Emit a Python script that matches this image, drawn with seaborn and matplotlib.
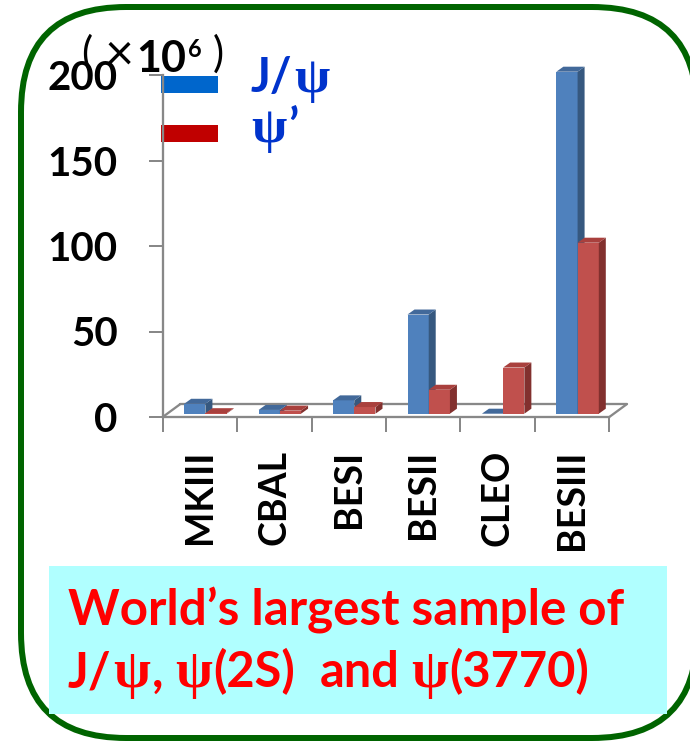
import matplotlib
matplotlib.use("Agg")
import matplotlib.pyplot as plt
import numpy as np
import pandas as pd
import seaborn as sns
from matplotlib.patches import FancyBboxPatch, Rectangle, Polygon
from matplotlib.lines import Line2D

# Data (events, in units of 10^6)
experiments = ["MKIII", "CBAL", "BESI", "BESII", "CLEO", "BESIII"]
jpsi_events = [5.8, 2.2, 7.8, 58.0, 0.0, 200.0]
psip_events = [0.3, 1.8, 3.9, 14.0, 27.0, 100.0]
series = ["J/ψ", "ψ’"]
y_ticks = [0, 50, 100, 150, 200]

W, H = 690, 743
sns.set_theme(style="white")
plt.rcParams["font.family"] = ["Lato", "DejaVu Sans"]

fig = plt.figure(figsize=(W / 100, H / 100), dpi=100)
renderer = fig.canvas.get_renderer()
PT = 72 / 100  # points per pixel
SANS = ["Lato", "DejaVu Sans"]
GREEK = ["Liberation Serif", "DejaVu Serif"]

# full-figure canvas in pixel units for frame, legend and captions
canvas = fig.add_axes([0, 0, 1, 1], zorder=0)
canvas.set_xlim(0, W)
canvas.set_ylim(H, 0)
canvas.axis("off")

canvas.add_patch(FancyBboxPatch((21, 7), 676, 731,
                                boxstyle="round,pad=0,rounding_size=105",
                                fc="white", ec="#006400", lw=6 * PT,
                                clip_on=False))


def text_width(t):
    return t.get_window_extent(renderer).width


def draw_runs(ax, x, y, parts, size, target=None, **kw):
    """Place text runs (string, family, weight, scale, gap_em) side by side."""
    def place(sz):
        xs, made = x, []
        for s, fam, wt, scale, gap in parts:
            t = ax.text(xs, y, s, fontsize=sz * scale, family=fam,
                        fontweight=wt, ha="left", va="baseline", **kw)
            xs += text_width(t) + gap * sz * scale / PT
            made.append(t)
        return made, xs - x
    made, w = place(size)
    if target:
        for t in made:
            t.remove()
        made, w = place(size * target / w)
    return made


# ---- bar chart ----
front_blue, side_blue, top_blue = "#4f81bd", "#36587f", "#42699a"
front_red, side_red, top_red = "#c0504d", "#82302e", "#a9403d"
gray = "#888888"

ax_l, ax_r, ax_b, ax_t = 162.7, 609.3, 417.0, 75.0
ax = fig.add_axes([ax_l / W, (H - ax_b) / H, (ax_r - ax_l) / W, (ax_b - ax_t) / H],
                  zorder=2)
ax.patch.set_alpha(0)

df = pd.DataFrame({
    "experiment": experiments * 2,
    "events": jpsi_events + psip_events,
    "particle": [series[0]] * len(experiments) + [series[1]] * len(experiments),
})
sns.barplot(data=df, x="experiment", y="events", hue="particle",
            order=experiments, hue_order=series,
            palette=[front_blue, front_red], width=0.57, saturation=1,
            errorbar=None, legend=False, ax=ax)
ax.set_xlim(-0.5, 5.5)
ax.set_ylim(0, 200)
ax.set_xlabel("")
ax.set_ylabel("")

ppx = (ax_r - ax_l) / 6.0
ppy = (ax_b - ax_t) / 200.0

# bars sit a little behind the front edge of the floor
sx, sy = 5.5 / ppx, 3.3 / ppy
# bar depth
dx, dy = 7.0 / ppx, 5.0 / ppy
# floor depth
fx, fy = 17.3 / ppx, 12.7 / ppy

shade = {front_blue: (side_blue, top_blue), front_red: (side_red, top_red)}
for i, p in enumerate(list(ax.patches)):
    fc = matplotlib.colors.to_hex(p.get_facecolor())
    side_c, top_c = shade.get(fc, (side_blue, top_blue))
    z = 3 + i // len(experiments)
    x0, w, h = p.get_x() + sx, p.get_width(), p.get_height()
    p.set_x(x0)
    p.set_y(sy)
    p.set_zorder(z)
    p.set_edgecolor("none")
    p.set_clip_on(False)
    side = Polygon([(x0 + w, sy), (x0 + w + dx, sy + dy),
                    (x0 + w + dx, sy + h + dy), (x0 + w, sy + h)],
                   closed=True, fc=side_c, ec="none", zorder=z, clip_on=False)
    top = Polygon([(x0, sy + h), (x0 + dx, sy + h + dy),
                   (x0 + w + dx, sy + h + dy), (x0 + w, sy + h)],
                  closed=True, fc=top_c, ec="none", zorder=z, clip_on=False)
    ax.add_patch(side)
    ax.add_patch(top)

# floor outline
floor_kw = dict(color=gray, lw=2.3 * PT, zorder=1.5, clip_on=False)
ax.add_line(Line2D([-0.5 + fx, 5.5 + fx], [fy, fy], **floor_kw))
ax.add_line(Line2D([-0.5, -0.5 + fx], [0, fy], **floor_kw))
ax.add_line(Line2D([5.5, 5.5 + fx], [0, fy], **floor_kw))

for name in ["top", "right"]:
    ax.spines[name].set_visible(False)
for name in ["left", "bottom"]:
    ax.spines[name].set_color(gray)
    ax.spines[name].set_linewidth(2.3 * PT)

ax.set_yticks(y_ticks)
ax.set_yticklabels([str(v) for v in y_ticks], fontsize=29, fontweight="bold",
                   color="black")
ax.tick_params(axis="y", left=True, length=14 * PT, width=2 * PT, color=gray,
               direction="out", pad=31 * PT)
ax.set_xticks(range(len(experiments)))
ax.set_xticklabels(experiments, rotation=90, fontsize=27, fontweight="bold",
                   color="black")
ax.set_xticks(np.arange(-0.5, 6.0, 1.0), minor=True)
ax.tick_params(axis="x", which="major", bottom=True, length=0, pad=33 * PT)
ax.tick_params(axis="x", which="minor", bottom=True, length=15 * PT,
               width=2 * PT, color=gray, direction="out")

# ---- unit label ----
canvas.text(81, 67, "(", fontsize=30, color="black", ha="left", va="baseline",
            zorder=5)
canvas.text(105, 70, "×", fontsize=36, color="black",
            ha="left", va="baseline", zorder=5)
canvas.text(136, 72, "10", fontsize=31, fontweight="bold", color="black",
            ha="left", va="baseline", zorder=5)
canvas.text(188, 57, "6", fontsize=17, fontweight="bold", color="black",
            ha="left", va="baseline", zorder=5)
canvas.text(213, 67, ")", fontsize=30, color="black", ha="left", va="baseline",
            zorder=5)

# ---- legend ----
canvas.add_patch(Rectangle((161, 76), 57, 16.7, fc="#0066cc", ec="none", zorder=5))
canvas.add_patch(Rectangle((161, 125), 57, 17, fc="#c00000", ec="none", zorder=5))
draw_runs(canvas, 251, 92,
          [("J/", SANS, "bold", 1.0, 0.04), ("ψ", GREEK, "bold", 1.1, 0.0)],
          33.5, color="#0033cc", zorder=5)
draw_runs(canvas, 251, 142,
          [("ψ", GREEK, "bold", 1.1, 0.04), ("’", SANS, "bold", 1.0, 0.0)],
          33.5, color="#0033cc", zorder=5)

# ---- caption ----
canvas.add_patch(Rectangle((49, 566), 618, 148, fc="#b0ffff", ec="none", zorder=3))
draw_runs(canvas, 68, 625,
          [("World’s largest sample of", SANS, "bold", 1.0, 0.0)],
          30, target=555, color="#ff0000", zorder=4)
draw_runs(canvas, 68, 687,
          [("J/", SANS, "bold", 1.0, 0.04),
           ("ψ", GREEK, "bold", 1.1, 0.03),
           (",", SANS, "bold", 1.0, 0.24),
           ("ψ", GREEK, "bold", 1.1, 0.03),
           ("(2S)", SANS, "bold", 1.0, 0.5),
           ("and", SANS, "bold", 1.0, 0.24),
           ("ψ", GREEK, "bold", 1.1, 0.03),
           ("(3770)", SANS, "bold", 1.0, 0.0)],
          30, target=520, color="#ff0000", zorder=4)

fig.savefig("out.png", dpi=100)
